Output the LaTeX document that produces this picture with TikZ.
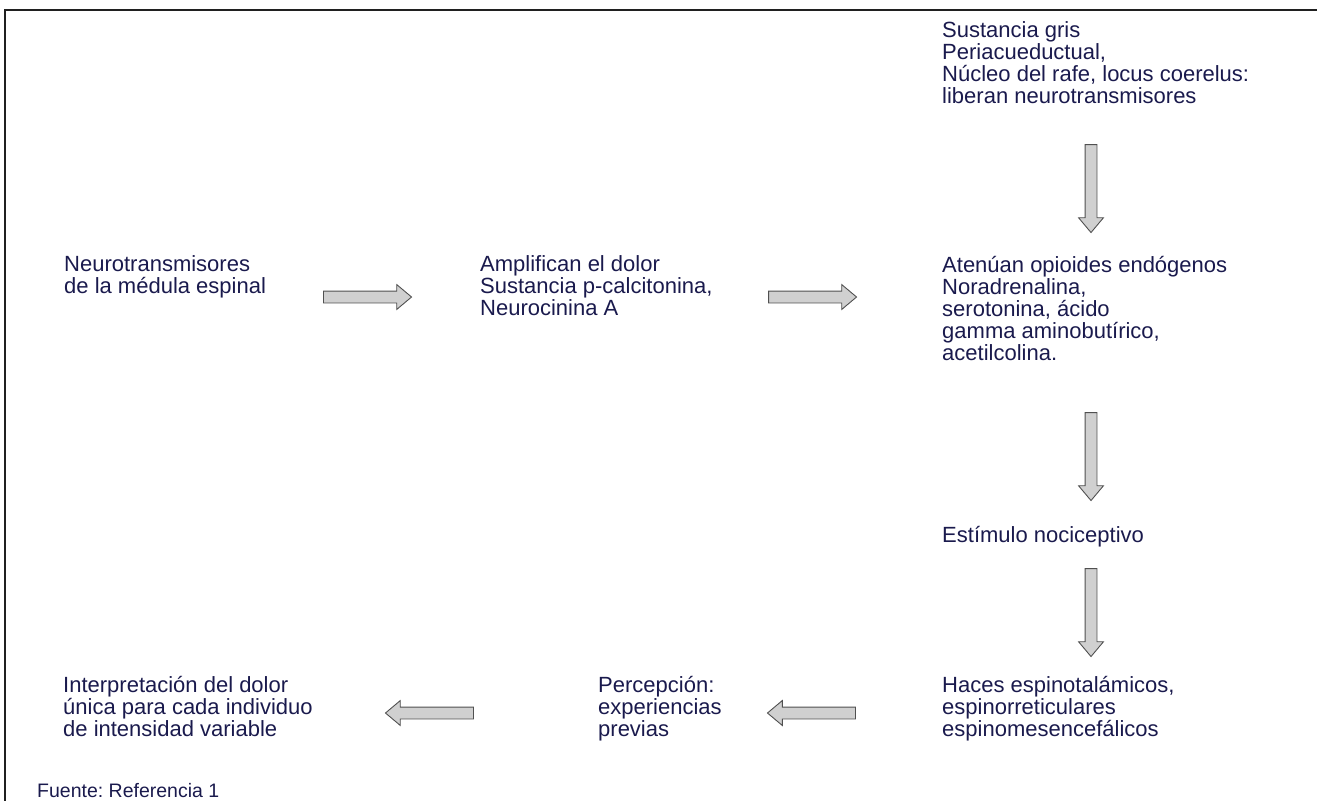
\documentclass[tikz,border=0pt]{standalone}
\usepackage{fontspec}
\setmainfont{Liberation Sans}
\usetikzlibrary{shapes.arrows}
\definecolor{inktext}{RGB}{26,26,77}
\definecolor{arrowfill}{RGB}{208,208,208}
\definecolor{arrowline}{RGB}{80,80,80}
\frenchspacing
\begin{document}
\begin{tikzpicture}[x=1pt,y=-1pt,
    txt/.style={anchor=north west,inner sep=0pt,align=left,text=inktext,
      font=\fontsize{22}{22}\selectfont},
    blockarrow/.style={single arrow,draw=arrowline,fill=arrowfill,line width=0.9pt,
      inner sep=5.5pt,minimum height=88pt,single arrow head extend=6.5pt,
      single arrow tip angle=80}]

\useasboundingbox (0,0) rectangle (1317,801);
	\draw[line width=2pt,gray!25!black] (1317,10) -- (5,10) -- (5,801);

	% top row
	\node[txt] (spinal) at (64,255) {Neurotransmisores\\de la médula espinal};
	\node[txt] (amplif) at (480,255) {Amplifican el dolor\\Sustancia p-calcitonina,\\Neurocinina A};
	\node[txt] (gris) at (942,21) {Sustancia gris\\Periacueductual,\\Núcleo del rafe, locus coerelus:\\liberan neurotransmisores};
	\node[txt] (opioid) at (942,256) {Atenúan opioides endógenos\\Noradrenalina,\\serotonina, ácido\\gamma aminobutírico,\\acetilcolina.};
	\node[txt] (noci) at (942,526) {Estímulo nociceptivo};

	% bottom row
	\node[txt] (haces) at (942,676) {Haces espinotalámicos,\\espinorreticulares\\espinomesencefálicos};
	\node[txt] (percep) at (598,676) {Percepción:\\experiencias\\previas};
	\node[txt] (interp) at (63,676) {Interpretación del dolor\\única para cada individuo\\de intensidad variable};
	\node[anchor=base west,inner sep=0pt,text=inktext,font=\fontsize{19.5}{20}\selectfont]
	  (fuente) at (37,797) {Fuente: Referencia 1};

	% block arrows
	\node[blockarrow] (ar1) at (364,297) {};
	\node[blockarrow] (ar2) at (809,297) {};
	\node[blockarrow,shape border rotate=270] (dn1) at (1091,185) {};
	\node[blockarrow,shape border rotate=270] (dn2) at (1091,453) {};
	\node[blockarrow,shape border rotate=270] (dn3) at (1091,609) {};
	\node[blockarrow,shape border rotate=180] (lf1) at (815,713) {};
	\node[blockarrow,shape border rotate=180] (lf2) at (433,713) {};

\end{tikzpicture}
\end{document}
